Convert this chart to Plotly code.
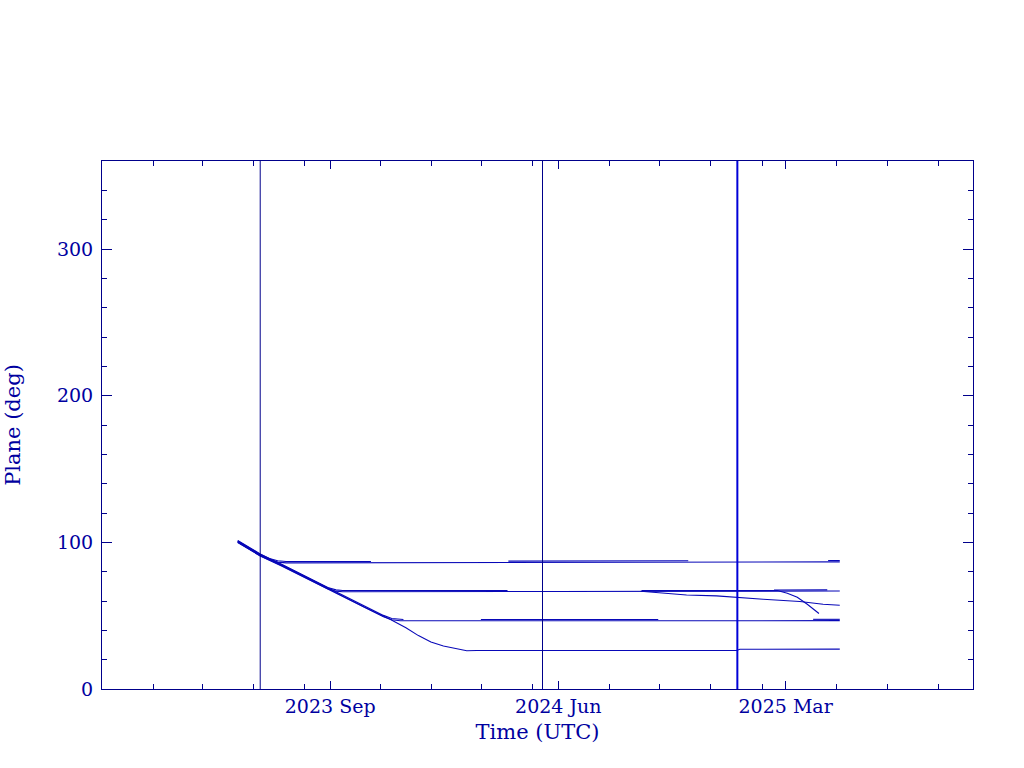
import plotly.graph_objects as go

# ---------------- data ----------------
x_range = ["2022-12-01", "2025-10-12"]
y_range = [0, 360]

x_tick_dates = ["2023-09-01", "2024-06-01", "2025-03-01"]
x_tick_labels = ["2023 Sep", "2024 Jun", "2025 Mar"]
x_minor_dates = ["2023-02-01", "2023-04-01", "2023-06-01", "2023-08-01",
                 "2023-11-01", "2024-01-01", "2024-03-01", "2024-05-01",
                 "2024-08-01", "2024-10-01", "2024-12-01", "2025-02-01",
                 "2025-05-01", "2025-07-01", "2025-09-01"]

event_dates = ["2023-06-09", "2024-05-13", "2025-01-02"]

# satellite plane histories (None = no data)
s1a_dates = ["2023-05-13", "2023-06-09", "2023-06-20", "2023-06-30", "2023-07-10",
             "2024-03-01", "2024-11-01", "2025-05-05"]
s1a_plane = [100.3, 91.2, 88.1, 86.5, 86.0, 86.3, 86.6, 86.7]

s1b_dates = ["2023-05-13", "2023-06-09", "2023-06-20", "2023-06-30", "2023-07-10",
             "2023-10-20", "2024-01-01", "2024-04-02", "2024-11-04", "2025-01-01",
             "2025-04-21", "2025-05-05"]
s1b_plane = [101.2, 92.1, 89.0, 87.4, 86.9, 86.9, None, 87.2, 87.4, None, 87.6, 87.6]

s2a_dates = ["2023-05-13", "2023-06-09", "2023-07-04", "2023-08-13", "2023-08-29",
             "2023-09-08", "2023-09-16", "2024-06-01", "2025-05-05"]
s2a_plane = [100.0, 90.9, 84.4, 73.0, 68.3, 66.7, 66.3, 66.5, 66.8]

s2b_dates = ["2023-05-13", "2023-06-09", "2023-07-04", "2023-08-13", "2023-08-29",
             "2023-09-08", "2023-09-16", "2024-04-01", "2024-06-01", "2025-02-15",
             "2025-04-20"]
s2b_plane = [100.9, 91.8, 85.3, 73.9, 69.2, 67.6, 67.2, 67.2, None, 67.5, 67.6]

s2c_dates = ["2024-09-08", "2024-10-09", "2024-11-02", "2024-12-08", "2025-01-01",
             "2025-02-02", "2025-03-18", "2025-04-15", "2025-05-05"]
s2c_plane = [66.6, 65.1, 64.1, 63.5, 62.4, 61.2, 59.7, 57.8, 57.1]

s2d_dates = ["2024-09-09", "2025-02-19", "2025-03-03", "2025-03-15", "2025-03-27",
             "2025-04-10"]
s2d_plane = [67.1, 67.1, 65.3, 62.6, 57.8, 51.5]

s3a_dates = ["2023-05-13", "2023-06-09", "2023-07-04", "2023-08-13", "2023-09-02",
             "2023-09-18", "2023-10-12", "2023-11-04", "2023-11-14", "2023-11-24",
             "2024-06-01", "2025-05-05"]
s3a_plane = [99.8, 90.7, 84.1, 72.7, 67.0, 62.3, 55.6, 49.3, 47.2, 46.5, 46.5, 46.6]

s3b_dates = ["2023-05-13", "2023-06-09", "2023-07-04", "2023-08-13", "2023-09-02",
             "2023-09-18", "2023-10-12", "2023-11-04", "2023-11-14", "2023-11-28",
             "2024-01-01", "2024-02-29", "2024-09-29", "2025-01-01", "2025-04-03",
             "2025-05-05"]
s3b_plane = [100.7, 91.6, 85.0, 73.6, 67.9, 63.2, 56.5, 50.2, 48.1, 47.4,
             None, 47.4, 47.4, None, 47.5, 47.5]

s4_dates = ["2023-05-13", "2023-06-09", "2023-07-04", "2023-08-13", "2023-09-02",
            "2023-09-18", "2023-10-12", "2023-11-13", "2023-12-01", "2023-12-16",
            "2023-12-31", "2024-01-15", "2024-02-01", "2024-02-12", "2024-02-24",
            "2025-01-01", "2025-01-05", "2025-05-05"]
s4_plane = [100.4, 91.3, 84.7, 73.2, 67.4, 62.6, 55.9, 47.2, 41.8, 36.4,
            32.0, 29.3, 27.1, 26.1, 26.3, 26.3, 27.1, 27.2]

satellites = [
    (s1a_dates, s1a_plane), (s1b_dates, s1b_plane),
    (s2a_dates, s2a_plane), (s2b_dates, s2b_plane),
    (s2c_dates, s2c_plane), (s2d_dates, s2d_plane),
    (s3a_dates, s3a_plane), (s3b_dates, s3b_plane),
    (s4_dates, s4_plane),
]

# ---------------- styling ----------------
LINE = "#0808b8"
AXIS = "#00008b"
TEXT = "#0000a0"
FONT = "DejaVu Serif"

fig = go.Figure()
for d, v in satellites:
    fig.add_trace(go.Scatter(x=d, y=v, mode="lines",
                             line=dict(color=LINE, width=1.1),
                             connectgaps=False, showlegend=False,
                             hoverinfo="skip"))

for i, d in enumerate(event_dates):
    fig.add_shape(type="line", xref="x", yref="paper", x0=d, x1=d, y0=0, y1=1,
                  line=dict(color="#0000d8" if i == 2 else AXIS,
                            width=2 if i == 2 else 1))

fig.update_layout(
    width=1024, height=768,
    margin=dict(l=102, r=51, t=161, b=79, pad=0),
    paper_bgcolor="white", plot_bgcolor="white",
    font=dict(family=FONT, color=TEXT, size=19),
    showlegend=False,
)

fig.update_xaxes(
    type="date", range=x_range,
    tickmode="array", tickvals=x_tick_dates, ticktext=x_tick_labels,
    ticks="inside", ticklen=8, tickwidth=1, tickcolor=AXIS,
    showline=True, linecolor=AXIS, linewidth=1, mirror="ticks",
    showgrid=False, zeroline=False,
    tickfont=dict(family=FONT, size=19, color=TEXT),
    minor=dict(tickmode="array", tickvals=x_minor_dates, ticks="inside",
               ticklen=5, tickcolor=AXIS, showgrid=False),
    title=dict(text="Time (UTC)", font=dict(family=FONT, size=21, color=TEXT),
               standoff=8),
    automargin=False,
)

fig.update_yaxes(
    range=y_range, tickmode="linear", tick0=0, dtick=100,
    ticks="inside", ticklen=10, tickwidth=1, tickcolor=AXIS,
    showline=True, linecolor=AXIS, linewidth=1, mirror="ticks",
    showgrid=False, zeroline=False,
    tickfont=dict(family=FONT, size=19, color=TEXT),
    ticklabelstandoff=4,
    minor=dict(dtick=20, tick0=0, ticks="inside", ticklen=5, tickcolor=AXIS,
               showgrid=False),
    title=dict(text="Plane (deg)", font=dict(family=FONT, size=21, color=TEXT),
               standoff=30),
    automargin=False,
)

fig.write_html("out.html",
               config={"displayModeBar": False},
               post_script="document.body.style.margin='0';"
                           "document.body.style.padding='0';")
